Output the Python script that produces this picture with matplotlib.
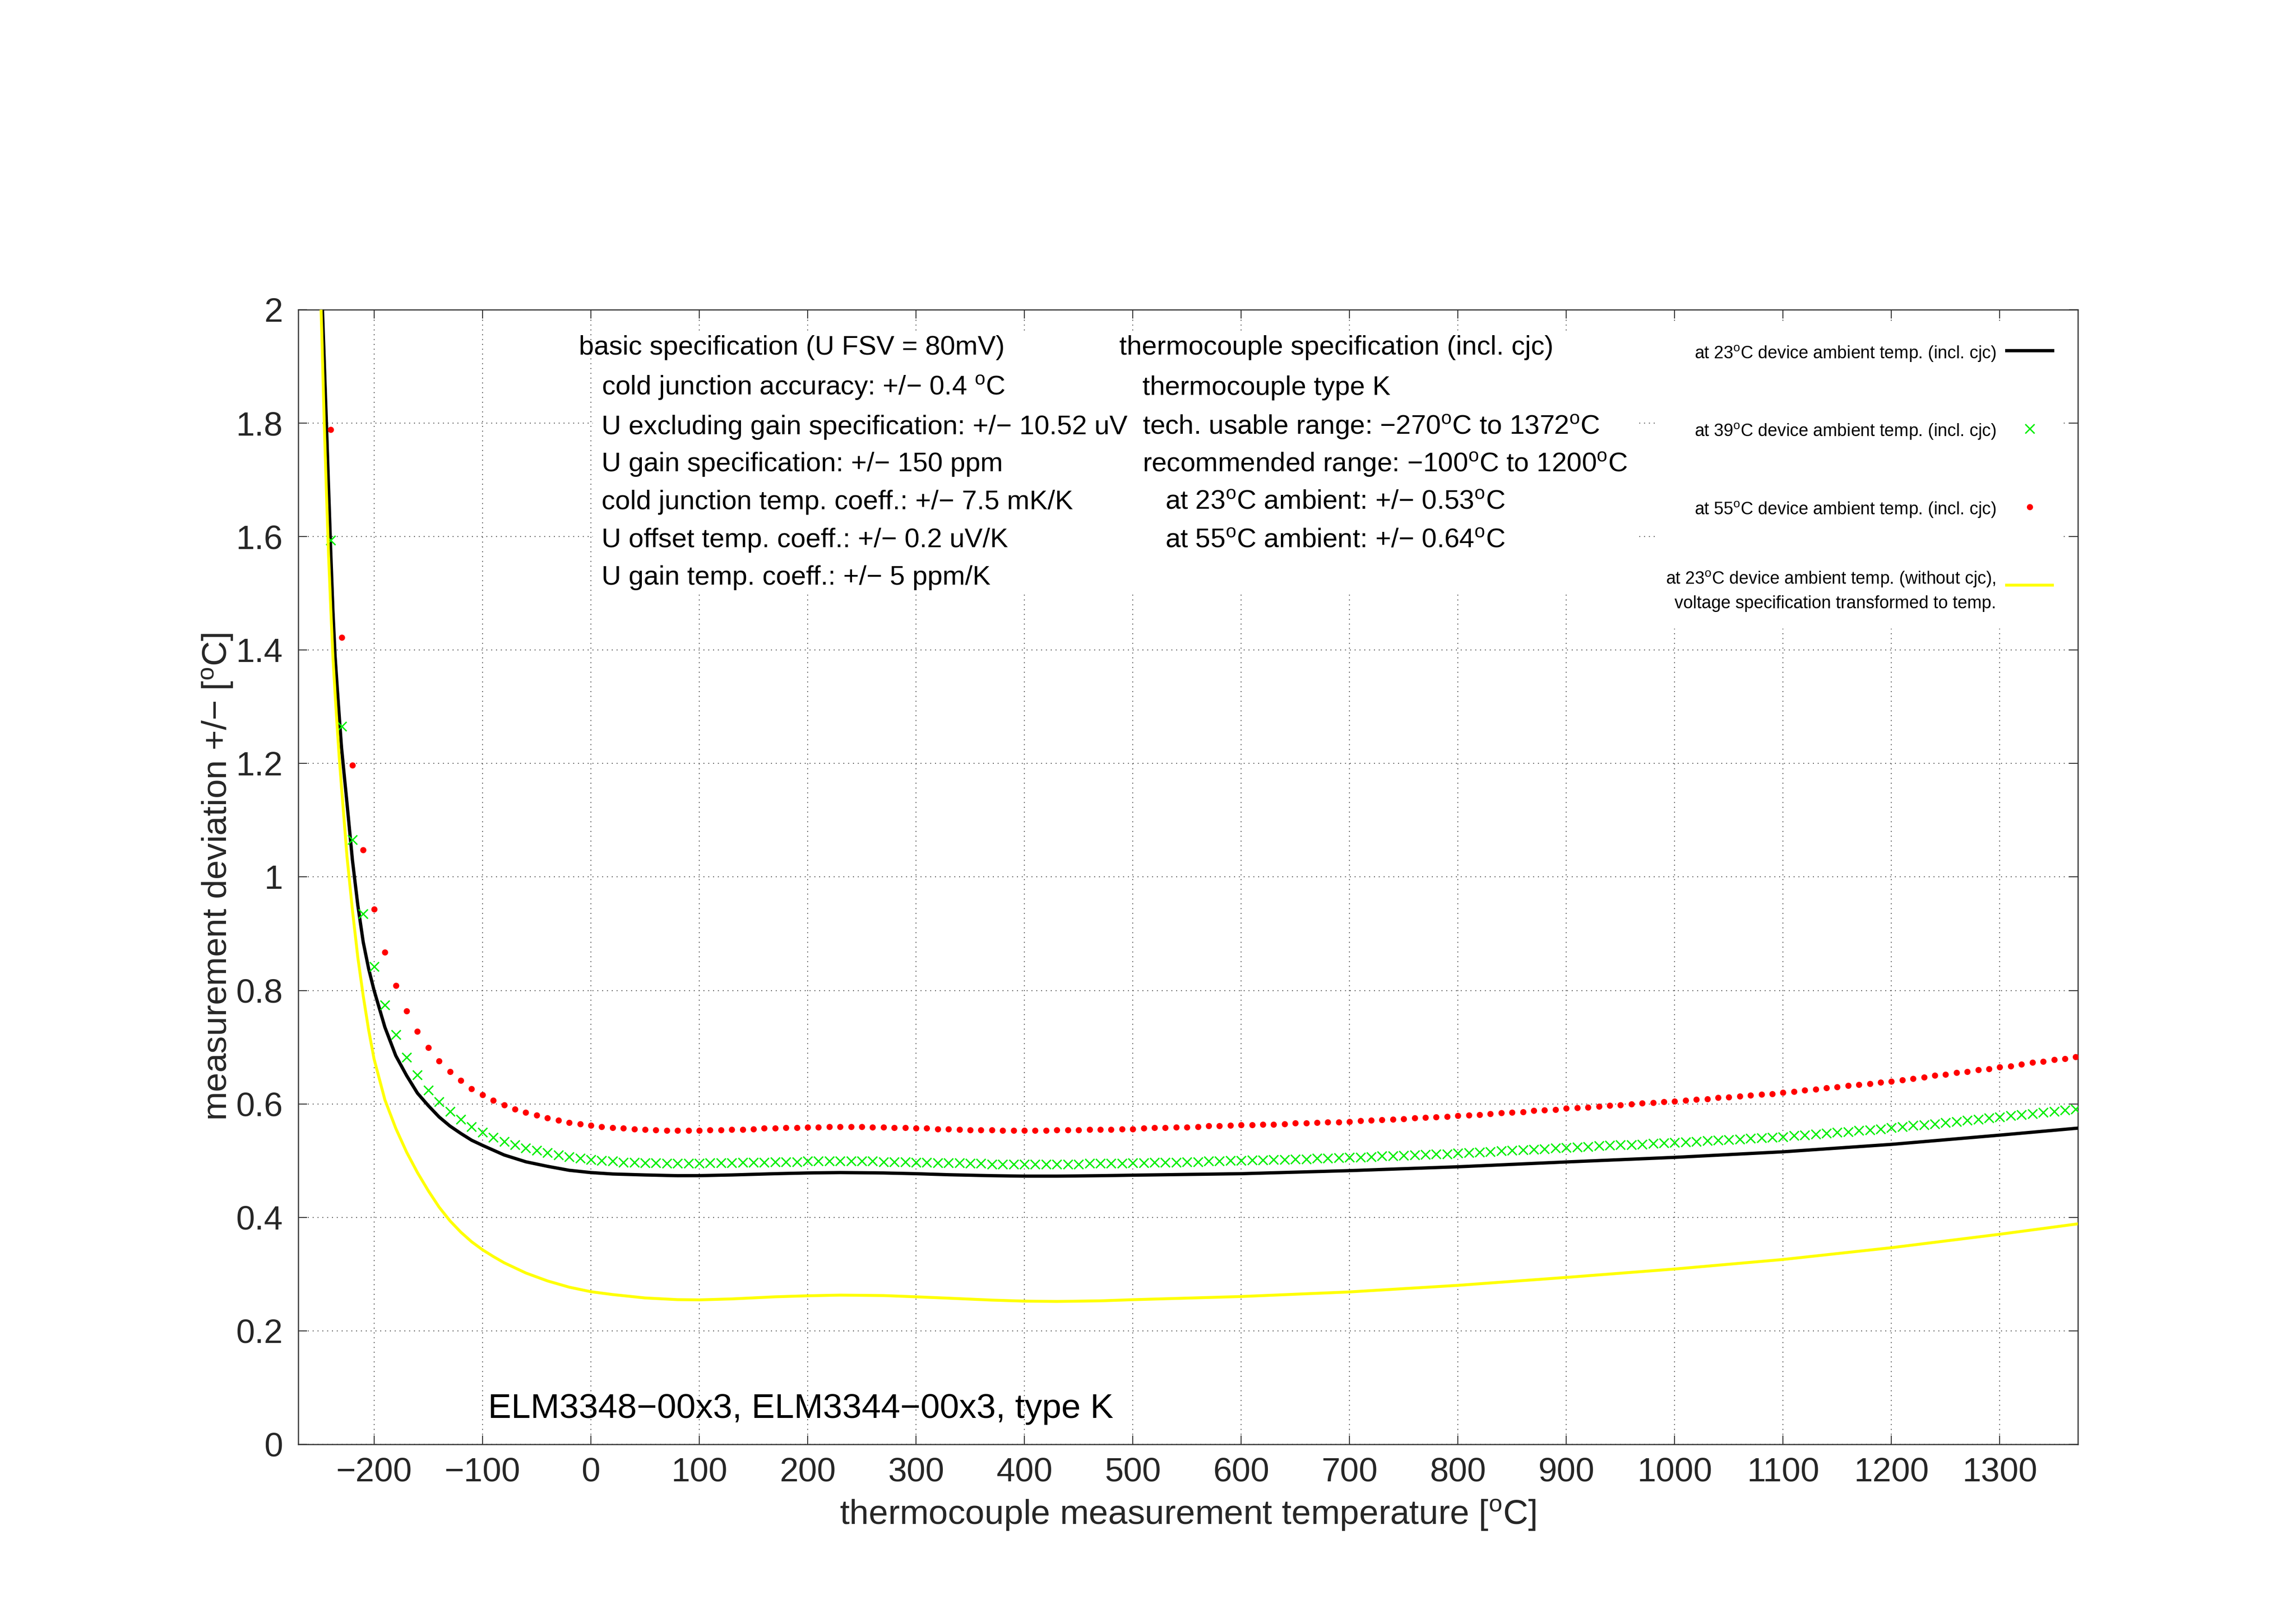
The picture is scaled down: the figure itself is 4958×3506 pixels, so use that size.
import numpy as np
import matplotlib
matplotlib.use('Agg')
import matplotlib.pyplot as plt
from matplotlib.patches import Rectangle
from matplotlib.ticker import FuncFormatter

plt.rcParams['font.family'] = ['Liberation Sans', 'DejaVu Sans']
plt.rcParams['mathtext.fontset'] = 'custom'
plt.rcParams['mathtext.rm'] = 'Liberation Sans'
plt.rcParams['mathtext.it'] = 'Liberation Sans:italic'
plt.rcParams['mathtext.bf'] = 'Liberation Sans:bold'

DEG = r'$^{\mathrm{o}}$'
MINUS = '\u2212'

# 23 degC ambient, incl. cjc (black line)
t_black = [-252, -250, -248, -246, -244, -242, -240, -238, -236, -234, -232, -230,
           -225, -220, -215, -210, -205, -200,
           -190, -180, -170, -160, -150, -140, -130, -120, -110, -100,
           -80, -60, -40, -20, 0, 20, 50, 80, 100,
           130, 170, 200, 230, 270, 300, 330, 370, 400, 430, 470, 500,
           600, 700, 800, 900, 1000, 1100, 1200, 1300, 1372]
v_black = [2.27, 2.14, 2.02, 1.91, 1.80, 1.686, 1.574, 1.47, 1.39, 1.333, 1.279, 1.227,
           1.13, 1.03, 0.95, 0.885, 0.838, 0.800,
           0.735, 0.685, 0.650, 0.619, 0.597, 0.577, 0.561, 0.548, 0.536, 0.527,
           0.510, 0.498, 0.490, 0.483, 0.479, 0.4765, 0.4748, 0.4735, 0.4736,
           0.4748, 0.477, 0.4783, 0.479, 0.4783, 0.477, 0.4752, 0.4735, 0.4727, 0.4727, 0.4735, 0.4744,
           0.477, 0.4824, 0.4892, 0.4977, 0.5058, 0.5156, 0.5287, 0.545, 0.5573]

# 23 degC ambient, without cjc (yellow line)
t_yellow = [-254, -252, -250, -248, -246, -244, -242, -240, -238, -236, -234, -232, -230,
            -225, -220, -215, -210, -205, -200,
            -190, -180, -170, -160, -150, -140, -130, -120, -110, -100,
            -90, -80, -60, -40, -20, 0, 20, 50, 80, 100,
            130, 170, 200, 230, 270, 300, 330, 370, 400, 430, 470, 500,
            600, 700, 800, 900, 1000, 1100, 1200, 1300, 1372]
v_yellow = [2.38, 2.22, 2.07, 1.94, 1.80, 1.679, 1.567, 1.474, 1.388, 1.323, 1.263, 1.206, 1.157,
            1.036, 0.942, 0.858, 0.79, 0.73, 0.679,
            0.607, 0.557, 0.515, 0.479, 0.447, 0.418, 0.394, 0.374, 0.357, 0.343,
            0.331, 0.320, 0.302, 0.288, 0.277, 0.269, 0.264, 0.258, 0.255, 0.2546,
            0.2563, 0.260, 0.2618, 0.263, 0.2622, 0.260, 0.2576, 0.2542, 0.2524, 0.2518, 0.2529, 0.2549,
            0.2605, 0.2686, 0.2802, 0.2942, 0.309, 0.3258, 0.3466, 0.3703, 0.3886]

# markers every 10 degC, -240 .. 1370
t_marks = np.arange(-240, 1371, 10)

v_39 = [1.594, 1.266, 1.066, 0.935, 0.842,
        0.774, 0.722, 0.682, 0.651, 0.624, 0.604, 0.587, 0.573, 0.560, 0.550,
        0.541, 0.534, 0.528, 0.522, 0.518, 0.514, 0.510, 0.507, 0.504, 0.502,
        0.500, 0.499, 0.497, 0.497, 0.496, 0.496, 0.495, 0.495, 0.495, 0.495,
        0.496, 0.496, 0.496, 0.497, 0.497, 0.497, 0.498, 0.498, 0.498, 0.499,
        0.499, 0.499, 0.499, 0.499, 0.499, 0.499, 0.498, 0.498, 0.498, 0.497,
        0.497, 0.496, 0.496, 0.496, 0.495, 0.495, 0.494, 0.494, 0.494, 0.494,
        0.494, 0.494, 0.494, 0.494, 0.494, 0.495, 0.495, 0.495, 0.495, 0.496,
        0.496, 0.497, 0.497, 0.497, 0.498, 0.498, 0.499, 0.499, 0.500, 0.500,
        0.501, 0.501, 0.502, 0.502, 0.503, 0.503, 0.504, 0.504, 0.505, 0.506,
        0.506, 0.507, 0.508, 0.508, 0.509, 0.510, 0.511, 0.512, 0.512, 0.513,
        0.514, 0.515, 0.516, 0.517, 0.518, 0.519, 0.520, 0.521, 0.522, 0.523,
        0.524, 0.525, 0.526, 0.527, 0.528, 0.528, 0.529, 0.530, 0.531, 0.532,
        0.533, 0.534, 0.535, 0.536, 0.537, 0.538, 0.539, 0.540, 0.541, 0.542,
        0.544, 0.545, 0.547, 0.548, 0.550, 0.551, 0.553, 0.554, 0.556, 0.558,
        0.560, 0.562, 0.563, 0.565, 0.567, 0.569, 0.571, 0.573, 0.575, 0.577,
        0.579, 0.581, 0.583, 0.585, 0.587, 0.589, 0.591]

v_55 = [1.789, 1.422, 1.197, 1.048, 0.943,
        0.867, 0.809, 0.764, 0.728, 0.699, 0.676, 0.657, 0.641, 0.627, 0.616,
        0.606, 0.598, 0.591, 0.585, 0.580, 0.575, 0.571, 0.567, 0.565, 0.562,
        0.560, 0.558, 0.557, 0.556, 0.555, 0.554, 0.553, 0.553, 0.553, 0.553,
        0.554, 0.554, 0.555, 0.555, 0.556, 0.557, 0.557, 0.558, 0.558, 0.559,
        0.559, 0.560, 0.560, 0.560, 0.560, 0.559, 0.559, 0.558, 0.558, 0.557,
        0.557, 0.556, 0.556, 0.555, 0.554, 0.554, 0.554, 0.553, 0.553, 0.553,
        0.553, 0.553, 0.554, 0.554, 0.554, 0.555, 0.555, 0.555, 0.556, 0.556,
        0.557, 0.558, 0.558, 0.559, 0.559, 0.560, 0.561, 0.561, 0.562, 0.563,
        0.563, 0.564, 0.564, 0.565, 0.566, 0.566, 0.567, 0.568, 0.568, 0.569,
        0.570, 0.571, 0.572, 0.573, 0.574, 0.575, 0.576, 0.577, 0.578, 0.579,
        0.580, 0.581, 0.583, 0.584, 0.585, 0.586, 0.588, 0.589, 0.590, 0.592,
        0.593, 0.594, 0.596, 0.597, 0.598, 0.600, 0.601, 0.602, 0.604, 0.605,
        0.606, 0.608, 0.609, 0.611, 0.612, 0.614, 0.615, 0.617, 0.618, 0.620,
        0.622, 0.624, 0.626, 0.628, 0.630, 0.632, 0.634, 0.636, 0.638, 0.640,
        0.642, 0.645, 0.647, 0.650, 0.652, 0.655, 0.657, 0.660, 0.662, 0.665,
        0.667, 0.670, 0.673, 0.675, 0.678, 0.680, 0.683]

x_ticks = list(range(-200, 1301, 100))
y_ticks = [0, 0.2, 0.4, 0.6, 0.8, 1.0, 1.2, 1.4, 1.6, 1.8, 2.0]

legend_labels = [
    'at 23' + DEG + 'C device ambient temp. (incl. cjc)',
    'at 39' + DEG + 'C device ambient temp. (incl. cjc)',
    'at 55' + DEG + 'C device ambient temp. (incl. cjc)',
    'at 23' + DEG + 'C device ambient temp. (without cjc),',
    'voltage specification transformed to temp.',
]

basic_spec = [
    'basic specification (U FSV = 80mV)',
    'cold junction accuracy: +/' + MINUS + ' 0.4 ' + DEG + 'C',
    'U excluding gain specification: +/' + MINUS + ' 10.52 uV',
    'U gain specification: +/' + MINUS + ' 150 ppm',
    'cold junction temp. coeff.: +/' + MINUS + ' 7.5 mK/K',
    'U offset temp. coeff.: +/' + MINUS + ' 0.2 uV/K',
    'U gain temp. coeff.: +/' + MINUS + ' 5 ppm/K',
]
tc_spec = [
    'thermocouple specification (incl. cjc)',
    'thermocouple type K',
    'tech. usable range: ' + MINUS + '270' + DEG + 'C to 1372' + DEG + 'C',
    'recommended range: ' + MINUS + '100' + DEG + 'C to 1200' + DEG + 'C',
    'at 23' + DEG + 'C ambient: +/' + MINUS + ' 0.53' + DEG + 'C',
    'at 55' + DEG + 'C ambient: +/' + MINUS + ' 0.64' + DEG + 'C',
]

fig = plt.figure(figsize=(4958 / 300, 3506 / 300), dpi=300)
ax = fig.add_axes([0.12989, 0.11010, 0.77511, 0.69909])

ax.plot(t_black, v_black, color='black', lw=1.7, zorder=3)
ax.plot(t_marks, v_39, ls='none', marker='x', ms=4.8, mew=0.7, color='#00ee00', zorder=3)
ax.plot(t_marks, v_55, ls='none', marker='o', ms=3.2, mew=0, color='#ff0000', zorder=3)
ax.plot(t_yellow, v_yellow, color='#ffff00', lw=1.5, zorder=4)

ax.set_xlim(-270, 1372)
ax.set_ylim(0, 2)
ax.set_xticks(x_ticks)
ax.set_yticks(y_ticks)
fmt = FuncFormatter(lambda v, p: ('%g' % v).replace('-', MINUS))
ax.xaxis.set_major_formatter(fmt)
ax.yaxis.set_major_formatter(fmt)

ax.grid(True, color='#555555', linestyle=(0, (1, 4)), linewidth=0.5)
ax.tick_params(direction='in', top=True, right=True, length=4.5, width=0.5,
               color='#333333', labelsize=17.5, labelcolor='#262626')
ax.tick_params(axis='x', pad=6.5)
ax.tick_params(axis='y', pad=8)
for s in ax.spines.values():
    s.set_linewidth(0.6)
    s.set_color('#333333')

ax.set_xlabel('thermocouple measurement temperature [' + DEG + 'C]', fontsize=18, color='#262626')
ax.set_ylabel('measurement deviation +/' + MINUS + ' [' + DEG + 'C]', fontsize=18, color='#262626')
ax.xaxis.label.set_va('baseline')
ax.xaxis.set_label_coords(0.5, -0.0706)
ax.yaxis.label.set_va('baseline')
ax.yaxis.set_label_coords(-0.0401, 0.5)

# opaque boxes behind the text block and the key (grid hidden there)
ax.add_patch(Rectangle((0.1655, 0.7502), 0.752 - 0.1655, 0.9794 - 0.7502,
                       transform=ax.transAxes, facecolor='white', edgecolor='none', zorder=1.6))
ax.add_patch(Rectangle((0.7636, 0.7187), 0.9901 - 0.7636, 0.99 - 0.7187,
                       transform=ax.transAxes, facecolor='white', edgecolor='none', zorder=1.6))

rows = [0.9603, 0.925, 0.8903, 0.8575, 0.8243, 0.7908, 0.7578]
for i, s in enumerate(basic_spec):
    x = 0.1577 if i == 0 else 0.1705
    ax.text(x, rows[i], s, transform=ax.transAxes, fontsize=14, va='baseline', ha='left', zorder=5)
for i, s in enumerate(tc_spec):
    x = 0.4613 if i == 0 else (0.4744 if i < 4 else 0.4871)
    ax.text(x, rows[i], s, transform=ax.transAxes, fontsize=14, va='baseline', ha='left', zorder=5)

ax.text(0.1066, 0.0234, 'ELM3348' + MINUS + '00x3, ELM3344' + MINUS + '00x3, type K',
        transform=ax.transAxes, fontsize=18, va='baseline', ha='left', zorder=5)

# key, text right aligned with the sample on the right
key_y = [0.9568, 0.8881, 0.8194, 0.7581, 0.7368]
for lab, y in zip(legend_labels, key_y):
    ax.text(0.954, y, lab, transform=ax.transAxes, fontsize=9, va='baseline', ha='right', zorder=5)
ax.plot([0.960, 0.9857], [0.9639, 0.9639], transform=ax.transAxes, color='black', lw=1.7,
        clip_on=False, zorder=5)
ax.plot([0.9729], [0.895], transform=ax.transAxes, ls='none', marker='x', ms=4.8, mew=0.7,
        color='#00ee00', clip_on=False, zorder=5)
ax.plot([0.9729], [0.8262], transform=ax.transAxes, ls='none', marker='o', ms=3.2, mew=0,
        color='#ff0000', clip_on=False, zorder=5)
ax.plot([0.960, 0.9857], [0.7574, 0.7574], transform=ax.transAxes, color='#ffff00', lw=1.5,
        clip_on=False, zorder=5)

fig.savefig('out.png', dpi=300, facecolor='white')
